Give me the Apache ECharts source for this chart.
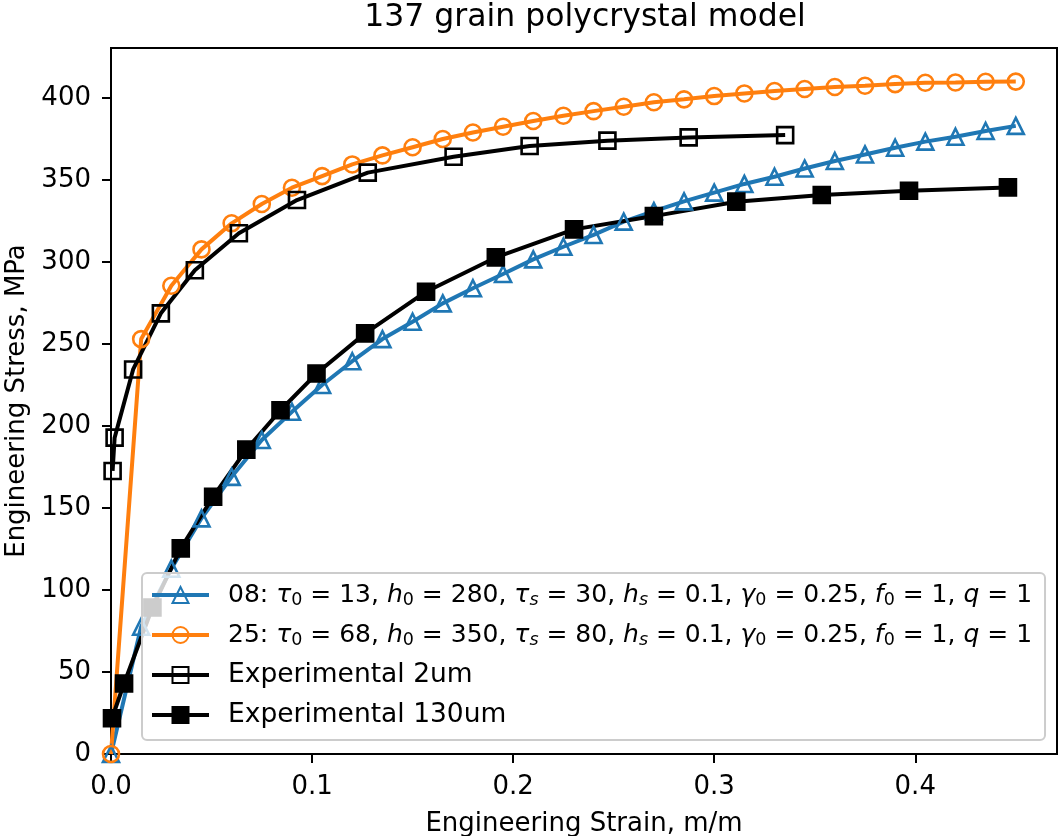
<!DOCTYPE html>
<html>
<head>
<meta charset="utf-8">
<title>137 grain polycrystal model</title>
<script src="https://cdn.jsdelivr.net/npm/echarts@6.0.0/dist/echarts.min.js"></script>
<style>
  html, body { margin: 0; padding: 0; background: #fff; }
  #chart { width: 1061px; height: 836px; }
</style>
</head>
<body>
<div id="chart"></div>
<script>
// strain values of the two crystal plasticity runs (same points for both)
const modelStrain = [0, 0.015, 0.03, 0.045, 0.06, 0.075, 0.09, 0.105, 0.12, 0.135,
  0.15, 0.165, 0.18, 0.195, 0.21, 0.225, 0.24, 0.255, 0.27, 0.285,
  0.3, 0.315, 0.33, 0.345, 0.36, 0.375, 0.39, 0.405, 0.42, 0.435, 0.45]
const model08Stress = [0, 77.6, 113, 143.7, 169, 191.5, 208.7, 225, 239.5, 253,
  263.6, 274.8, 284, 292.7, 301.6, 309.3, 316.5, 324.6, 331, 337,
  342.3, 347.6, 352, 357, 361.6, 365.6, 369.7, 373.4, 376.4, 379.9, 383]
const model25Stress = [0, 253, 285.5, 307.7, 323.6, 335.4, 345.3, 352.4, 359.5, 365,
  370, 375, 379, 382.5, 386, 389.2, 392, 394.7, 397.4, 399.2,
  401.2, 402.8, 404.3, 405.5, 406.7, 407.5, 408.5, 409.3, 409.5, 409.9, 410]

// experiments
const exp2Strain = [0.0008, 0.0018, 0.011, 0.0248, 0.0417, 0.0636, 0.0925, 0.1277, 0.1704, 0.2082, 0.2469, 0.2873, 0.3353]
const exp2Stress = [172.6, 192.9, 234.5, 268.7, 295, 317.5, 337.8, 354.5, 364.2, 370.7, 374, 376, 377.4]
const exp130Strain = [0.0005, 0.0065, 0.0206, 0.0347, 0.0508, 0.0673, 0.0843, 0.1022, 0.1264, 0.1567,
  0.1914, 0.2303, 0.27, 0.311, 0.3535, 0.3969, 0.4461]
const exp130Stress = [21.8, 43, 89.3, 125.4, 156.9, 185.6, 209.6, 232, 256.5, 281.9,
  302.8, 319.9, 328, 336.8, 340.9, 343.5, 345.5]

const xTicks = [0, 0.1, 0.2, 0.3, 0.4]
const yTicks = [0, 50, 100, 150, 200, 250, 300, 350, 400]

// rich text: n = plain math text, i = italic symbol, s / si = subscripts
const legendText = {
  '08': '{n|08: }{i|τ}{s|0}{n| = 13, }{i|h}{s|0}{n| = 280, }{i|τ}{si|s}{n| = 30, }{i|h}{si|s}{n| = 0.1, }{i|γ}{s|0}{n| = 0.25, }{i|f}{s|0}{n| = 1, }{i|q}{n| = 1}',
  '25': '{n|25: }{i|τ}{s|0}{n| = 68, }{i|h}{s|0}{n| = 350, }{i|τ}{si|s}{n| = 80, }{i|h}{si|s}{n| = 0.1, }{i|γ}{s|0}{n| = 0.25, }{i|f}{s|0}{n| = 1, }{i|q}{n| = 1}',
  'Experimental 2um': 'Experimental 2um',
  'Experimental 130um': 'Experimental 130um'
}

const FONT = 'DejaVu Sans'

function pairs(xs, ys) {
  return xs.map((x, i) => [x, ys[i]])
}

function makeSeries(name, xs, ys, symbol, color, filled) {
  return {
    name: name,
    type: 'line',
    data: pairs(xs, ys),
    symbol: symbol,
    symbolSize: 16,
    showAllSymbol: true,
    lineStyle: { color: color, width: 4 },
    itemStyle: {
      color: filled ? color : 'rgba(255,255,255,0)',
      borderColor: color,
      borderWidth: 2.6
    },
    emphasis: { disabled: true },
    animation: false
  }
}

const chart = echarts.init(document.getElementById('chart'))

const option = {
  backgroundColor: '#fff',
  animation: false,
  title: {
    text: '137 grain polycrystal model',
    left: 585,
    top: 2,
    padding: 0,
    textAlign: 'center',
    textStyle: { fontFamily: FONT, fontSize: 31.5, fontWeight: 'normal', color: '#000' }
  },
  grid: {
    left: 111, right: 4, top: 48, bottom: 82,
    outerBoundsMode: 'none',
    containLabel: false,
    show: true, borderColor: '#000', borderWidth: 2, backgroundColor: 'transparent'
  },
  xAxis: {
    type: 'value',
    min: 0,
    max: 0.4705,
    interval: 0.1,
    name: 'Engineering Strain, m/m',
    nameLocation: 'middle',
    nameGap: 57,
    nameTextStyle: { fontFamily: FONT, fontSize: 26, color: '#000' },
    splitLine: { show: false },
    axisLine: { lineStyle: { color: '#000', width: 2 } },
    axisTick: { customValues: xTicks, length: 9, lineStyle: { color: '#000', width: 2 } },
    axisLabel: {
      customValues: xTicks,
      margin: 20,
      fontFamily: FONT, fontSize: 26, color: '#000',
      formatter: v => v.toFixed(1)
    }
  },
  yAxis: {
    type: 'value',
    min: 0,
    max: 430.5,
    interval: 50,
    name: 'Engineering Stress, MPa',
    nameLocation: 'middle',
    nameGap: 80,
    nameTextStyle: { fontFamily: FONT, fontSize: 26, color: '#000' },
    splitLine: { show: false },
    axisLine: { show: true, lineStyle: { color: '#000', width: 2 } },
    axisTick: { show: true, customValues: yTicks, length: 9, lineStyle: { color: '#000', width: 2 } },
    axisLabel: {
      customValues: yTicks,
      margin: 20,
      fontFamily: FONT, fontSize: 26, color: '#000'
    }
  },
  legend: {
    orient: 'vertical',
    left: 142,
    top: 573,
    padding: [7, 13, 10, 8],
    itemGap: 10,
    itemWidth: 57,
    itemHeight: 20,
    backgroundColor: 'rgba(255,255,255,0.8)',
    borderColor: '#cccccc',
    borderWidth: 2,
    borderRadius: 5,
    lineStyle: { width: 4 },
    data: ['08', '25', 'Experimental 2um', 'Experimental 130um'],
    formatter: name => legendText[name],
    textStyle: {
      fontFamily: FONT, fontSize: 26.5, color: '#000', lineHeight: 30,
      padding: [0, 0, 0, 14],
      rich: {
        n: { fontFamily: FONT, fontSize: 25, color: '#000' },
        i: { fontFamily: FONT, fontSize: 25, fontStyle: 'italic', color: '#000' },
        s: { fontFamily: FONT, fontSize: 17.5, color: '#000', padding: [11, 0, 0, 0] },
        si: { fontFamily: FONT, fontSize: 17.5, fontStyle: 'italic', color: '#000', padding: [11, 0, 0, 0] }
      }
    }
  },
  series: [
    makeSeries('08', modelStrain, model08Stress, 'triangle', '#1f77b4', false),
    makeSeries('25', modelStrain, model25Stress, 'circle', '#ff7f0e', false),
    makeSeries('Experimental 2um', exp2Strain, exp2Stress, 'rect', '#000', false),
    makeSeries('Experimental 130um', exp130Strain, exp130Stress, 'rect', '#000', true)
  ]
}

chart.setOption(option)
</script>
</body>
</html>
